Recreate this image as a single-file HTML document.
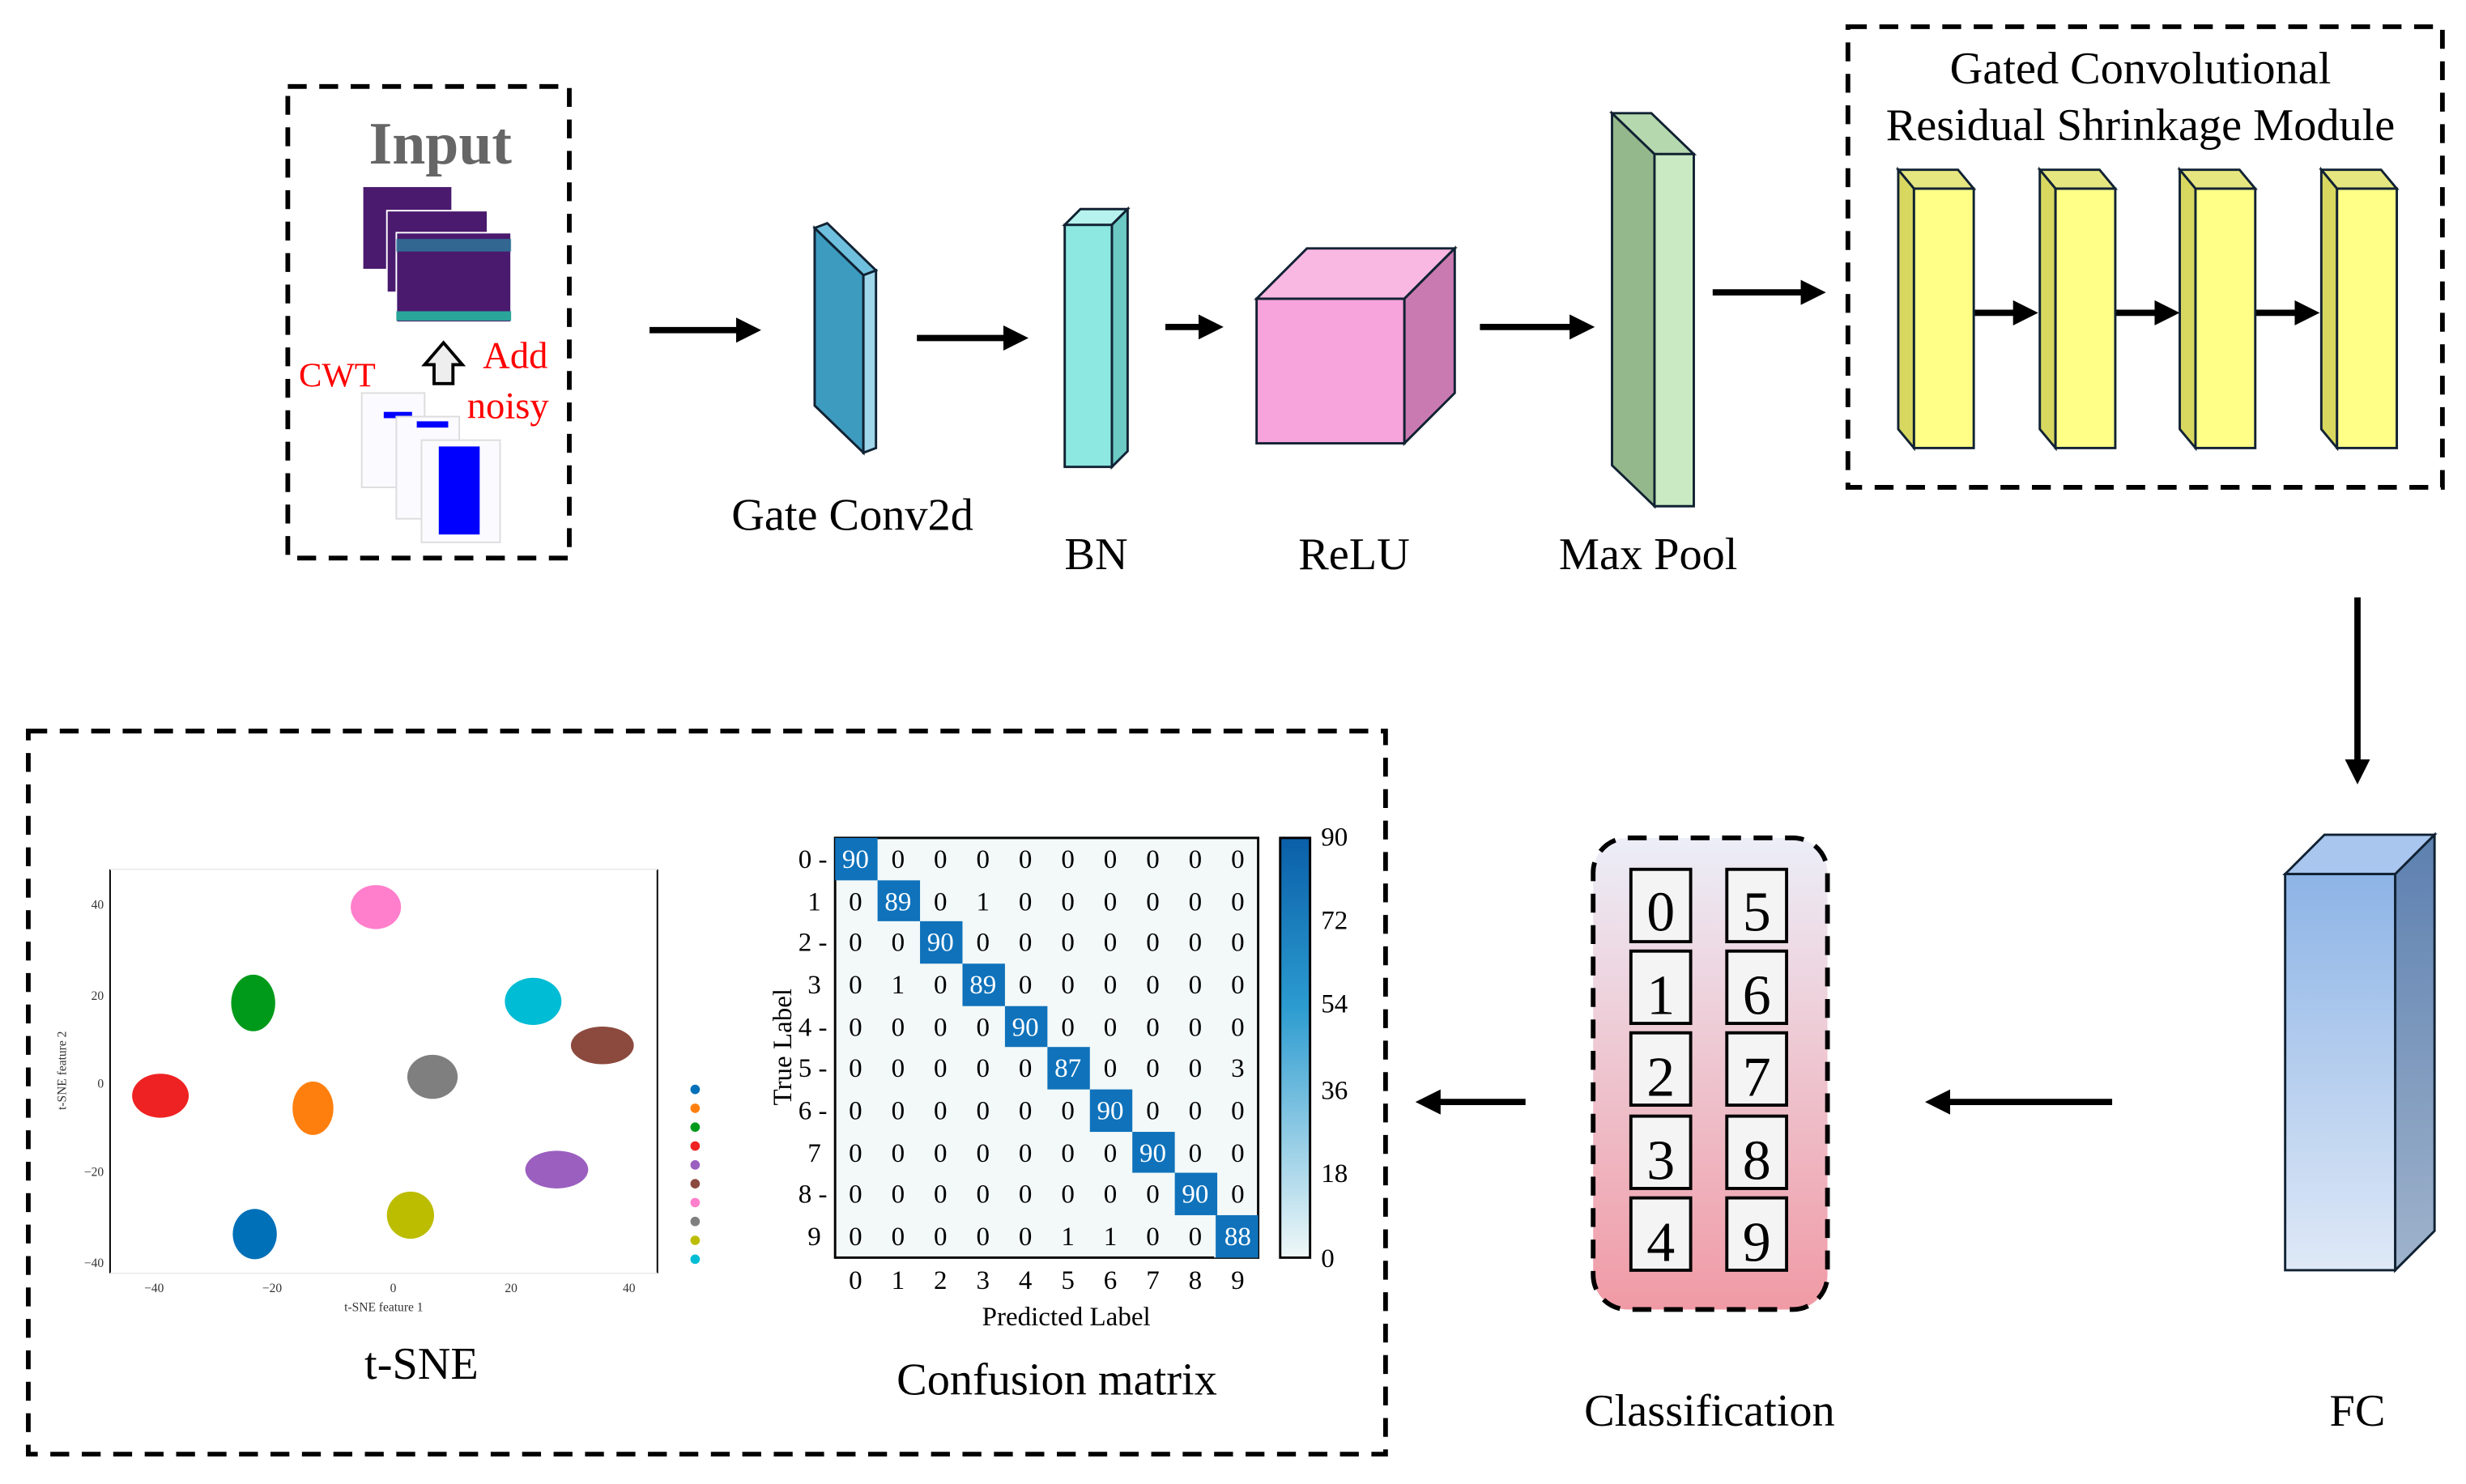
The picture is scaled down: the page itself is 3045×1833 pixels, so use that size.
<!DOCTYPE html>
<html><head><meta charset="utf-8"><style>html,body{margin:0;padding:0;background:#fff}svg{display:block}</style></head><body>
<svg width="3045" height="1833" viewBox="0 0 1568 944" preserveAspectRatio="none" xmlns="http://www.w3.org/2000/svg" font-family="Liberation Serif, serif">
<defs>
<marker id="ah" markerWidth="4" markerHeight="4" refX="2.5" refY="2" orient="auto" markerUnits="strokeWidth"><path d="M0,0 L4,2 L0,4 z" fill="#000"/></marker>
<linearGradient id="fc" x1="0" y1="0" x2="0" y2="1"><stop offset="0" stop-color="#8db4e6"/><stop offset="1" stop-color="#dfe9f7"/></linearGradient>
<linearGradient id="fcs" x1="0" y1="0" x2="0" y2="1"><stop offset="0" stop-color="#5d80b0"/><stop offset="1" stop-color="#9fb3cc"/></linearGradient>
<linearGradient id="cls" x1="0" y1="0" x2="0" y2="1"><stop offset="0" stop-color="#eceef8"/><stop offset="1" stop-color="#f09aa5"/></linearGradient>
<linearGradient id="cb" x1="0" y1="0" x2="0" y2="1"><stop offset="0" stop-color="#0a5fa8"/><stop offset="0.4" stop-color="#2b9bd0"/><stop offset="1" stop-color="#f0f8f8"/></linearGradient>
</defs>
<g fill="none" stroke="#000" stroke-width="3" stroke-dasharray="12,8">
<rect x="183" y="55" width="179" height="300"/>
<rect x="1175" y="17" width="378" height="293"/>
<rect x="18" y="465" width="863" height="460"/>
<rect x="1013" y="533" width="149" height="300" rx="22" fill="url(#cls)"/>
</g>
<!-- Input -->
<text x="280" y="104" font-size="38" font-weight="bold" fill="#666" text-anchor="middle">Input</text>
<rect x="231" y="119" width="56" height="52" fill="#4a1a6e"/>
<rect x="246" y="134" width="64" height="52" fill="#4a1a6e" stroke="#fff" stroke-width="1"/>
<rect x="252" y="148" width="73" height="57" fill="#4a1a6e" stroke="#fff" stroke-width="1"/>
<rect x="252" y="198" width="73" height="6" fill="#2aa59a"/>
<rect x="252" y="152" width="73" height="8" fill="#2b7a9a" opacity="0.8"/>
<path d="M276,244 L276,232 L270,232 L282,218 L294,232 L288,232 L288,244 Z" fill="#eee" stroke="#000" stroke-width="2"/>
<text x="190" y="246" font-size="22" fill="#f00">CWT</text>
<text x="307" y="234" font-size="24" fill="#f00">Add</text>
<text x="297" y="266" font-size="24" fill="#f00">noisy</text>
<rect x="230" y="250" width="40" height="60" fill="#fbfbff" stroke="#ddd"/>
<rect x="244" y="262" width="18" height="4" fill="#00f"/>
<rect x="252" y="265" width="40" height="65" fill="#fbfbff" stroke="#ddd"/>
<rect x="265" y="268" width="20" height="4" fill="#00f"/>
<rect x="268" y="280" width="50" height="65" fill="#fbfbff" stroke="#ddd"/>
<rect x="279" y="284" width="26" height="56" fill="#00f"/>
<!-- arrows -->
<g stroke="#000" stroke-width="4" marker-end="url(#ah)">
<line x1="413" y1="210" x2="478" y2="210"/>
<line x1="583" y1="215" x2="648" y2="215"/>
<line x1="741" y1="208" x2="772" y2="208"/>
<line x1="941" y1="208" x2="1008" y2="208"/>
<line x1="1089" y1="186" x2="1155" y2="186"/>
<line x1="1499" y1="380" x2="1499" y2="493"/>
<line x1="1343" y1="701" x2="1230" y2="701"/>
<line x1="970" y1="701" x2="906" y2="701"/>
<line x1="1255" y1="199" x2="1290" y2="199"/>
<line x1="1345" y1="199" x2="1380" y2="199"/>
<line x1="1434" y1="199" x2="1469" y2="199"/>
</g>
<!-- Gate conv -->
<polygon points="518,145 549,175 549,288 518,258" fill="#3d9bbf" stroke="#123" stroke-width="1.5"/>
<polygon points="549,175 557,172 557,285 549,288" fill="#9fd6ea" stroke="#123" stroke-width="1.5"/>
<polygon points="518,145 526,142 557,172 549,175" fill="#6fc0de" stroke="#123" stroke-width="1.5"/>
<!-- BN -->
<polygon points="677,143 707,143 707,297 677,297" fill="#8de8e2" stroke="#123" stroke-width="1.5"/>
<polygon points="677,143 687,133 717,133 707,143" fill="#b6f3ee" stroke="#123" stroke-width="1.5"/>
<polygon points="707,143 717,133 717,287 707,297" fill="#6cc9c3" stroke="#123" stroke-width="1.5"/>
<!-- ReLU -->
<polygon points="799,190 893,190 893,282 799,282" fill="#f8a4dc" stroke="#123" stroke-width="1.5"/>
<polygon points="799,190 831,158 925,158 893,190" fill="#f9b8e2" stroke="#123" stroke-width="1.5"/>
<polygon points="893,190 925,158 925,250 893,282" fill="#c97ab0" stroke="#123" stroke-width="1.5"/>
<!-- Max pool -->
<polygon points="1025,72 1052,98 1052,322 1025,296" fill="#94b88c" stroke="#123" stroke-width="1.5"/>
<polygon points="1025,72 1050,72 1077,98 1052,98" fill="#b6d8ae" stroke="#123" stroke-width="1.5"/>
<polygon points="1052,98 1077,98 1077,322 1052,322" fill="#c9eac2" stroke="#123" stroke-width="1.5"/>
<!-- GCRS -->
<text x="1361" y="53" font-size="29" text-anchor="middle">Gated Convolutional</text>
<text x="1361" y="89" font-size="29" text-anchor="middle">Residual Shrinkage Module</text>
<g stroke="#123" stroke-width="1.5">
<g id="yb"><polygon points="1207,108 1245,108 1255,120 1217,120" fill="#e6e680"/><polygon points="1207,108 1217,120 1217,285 1207,273" fill="#d8d860"/><rect x="1217" y="120" width="38" height="165" fill="#ffff88"/></g>
<use href="#yb" x="90"/><use href="#yb" x="179"/><use href="#yb" x="269"/>
</g>
<!-- FC -->
<polygon points="1453,556 1478,531 1548,531 1523,556" fill="#a8c6ee" stroke="#123" stroke-width="1.5"/>
<rect x="1453" y="556" width="70" height="252" fill="url(#fc)" stroke="#123" stroke-width="1.5"/>
<polygon points="1523,556 1548,531 1548,783 1523,808" fill="url(#fcs)" stroke="#123" stroke-width="1.5"/>
<!-- classification boxes -->
<g fill="#f4f4f4" stroke="#000" stroke-width="2">
<rect x="1037" y="553" width="38" height="46"/><rect x="1098" y="553" width="38" height="46"/>
<rect x="1037" y="605" width="38" height="46"/><rect x="1098" y="605" width="38" height="46"/>
<rect x="1037" y="657" width="38" height="46"/><rect x="1098" y="657" width="38" height="46"/>
<rect x="1037" y="710" width="38" height="46"/><rect x="1098" y="710" width="38" height="46"/>
<rect x="1037" y="762" width="38" height="46"/><rect x="1098" y="762" width="38" height="46"/>
</g>
<g font-size="36" text-anchor="middle">
<text x="1056" y="592">0</text><text x="1117" y="592">5</text>
<text x="1056" y="645">1</text><text x="1117" y="645">6</text>
<text x="1056" y="697">2</text><text x="1117" y="697">7</text>
<text x="1056" y="750">3</text><text x="1117" y="750">8</text>
<text x="1056" y="802">4</text><text x="1117" y="802">9</text>
</g>
<!-- labels -->
<g font-size="29" text-anchor="middle">
<text x="542" y="337">Gate Conv2d</text><text x="697" y="362">BN</text><text x="861" y="362">ReLU</text><text x="1048" y="362">Max Pool</text>
<text x="1087" y="907">Classification</text><text x="1499" y="907">FC</text><text x="268" y="877">t-SNE</text><text x="672" y="887">Confusion matrix</text>
</g>
<!-- t-SNE -->
<line x1="70" y1="553" x2="70" y2="810" stroke="#000" stroke-width="1"/>
<line x1="418" y1="553" x2="418" y2="810" stroke="#000" stroke-width="1"/>
<line x1="70" y1="810" x2="418" y2="810" stroke="#eee" stroke-width="1"/>
<line x1="70" y1="553" x2="418" y2="553" stroke="#eee" stroke-width="1"/>
<g font-size="8" fill="#333" text-anchor="end"><text x="66" y="578">40</text><text x="66" y="636">20</text><text x="66" y="692">0</text><text x="66" y="748">−20</text><text x="66" y="806">−40</text></g>
<g font-size="8" fill="#333" text-anchor="middle"><text x="98" y="822">−40</text><text x="173" y="822">−20</text><text x="250" y="822">0</text><text x="325" y="822">20</text><text x="400" y="822">40</text><text x="244" y="834">t-SNE feature 1</text></g>
<text x="42" y="681" font-size="8" fill="#333" transform="rotate(-90 42 681)" text-anchor="middle">t-SNE feature 2</text>
<ellipse cx="239" cy="577" rx="16" ry="14" fill="#ff7fcc"/>
<ellipse cx="161" cy="638" rx="14" ry="18" fill="#009a1a"/>
<ellipse cx="102" cy="697" rx="18" ry="14" fill="#ee2222"/>
<ellipse cx="199" cy="705" rx="13" ry="17" fill="#ff7f0e"/>
<ellipse cx="275" cy="685" rx="16" ry="14" fill="#7f7f7f"/>
<ellipse cx="339" cy="637" rx="18" ry="15" fill="#00bcd4"/>
<ellipse cx="383" cy="665" rx="20" ry="12" fill="#8c4a3e"/>
<ellipse cx="354" cy="744" rx="20" ry="12" fill="#9b5fc0"/>
<ellipse cx="261" cy="773" rx="15" ry="15" fill="#bcbd00"/>
<ellipse cx="162" cy="785" rx="14" ry="16" fill="#0070b8"/>
<g><circle cx="442" cy="693" r="3" fill="#0070b8"/><circle cx="442" cy="705" r="3" fill="#ff7f0e"/><circle cx="442" cy="717" r="3" fill="#009a1a"/><circle cx="442" cy="729" r="3" fill="#ee2222"/><circle cx="442" cy="741" r="3" fill="#9b5fc0"/><circle cx="442" cy="753" r="3" fill="#8c4a3e"/><circle cx="442" cy="765" r="3" fill="#ff7fcc"/><circle cx="442" cy="777" r="3" fill="#7f7f7f"/><circle cx="442" cy="789" r="3" fill="#bcbd00"/><circle cx="442" cy="801" r="3" fill="#00bcd4"/></g>
<!-- confusion matrix -->
<rect x="531" y="533" width="269" height="267" fill="#f2f9f8" stroke="#000" stroke-width="1.5"/>
<rect x="772" y="773" width="28" height="27" fill="#ebf5f7"/>
<g fill="#0f72bb">
<rect x="531" y="533" width="27" height="27"/><rect x="558" y="560" width="27" height="26"/><rect x="585" y="586" width="27" height="27"/><rect x="612" y="613" width="27" height="27"/><rect x="639" y="640" width="27" height="26"/><rect x="666" y="666" width="27" height="27"/><rect x="693" y="693" width="27" height="27"/><rect x="720" y="720" width="27" height="26"/><rect x="747" y="746" width="27" height="27"/><rect x="773" y="773" width="27" height="27"/>
</g>
<rect x="814" y="533" width="19" height="267" fill="url(#cb)" stroke="#000" stroke-width="1.5"/>
<g font-size="17" text-anchor="start"><text x="840" y="538">90</text><text x="840" y="591">72</text><text x="840" y="644">54</text><text x="840" y="699">36</text><text x="840" y="752">18</text><text x="840" y="806">0</text></g>
<g font-size="17" text-anchor="middle">
<text x="544" y="552" fill="#fff">90</text><text x="571" y="552">0</text><text x="598" y="552">0</text><text x="625" y="552">0</text><text x="652" y="552">0</text><text x="679" y="552">0</text><text x="706" y="552">0</text><text x="733" y="552">0</text><text x="760" y="552">0</text><text x="787" y="552">0</text>
<text x="544" y="579">0</text><text x="571" y="579" fill="#fff">89</text><text x="598" y="579">0</text><text x="625" y="579">1</text><text x="652" y="579">0</text><text x="679" y="579">0</text><text x="706" y="579">0</text><text x="733" y="579">0</text><text x="760" y="579">0</text><text x="787" y="579">0</text>
<text x="544" y="605">0</text><text x="571" y="605">0</text><text x="598" y="605" fill="#fff">90</text><text x="625" y="605">0</text><text x="652" y="605">0</text><text x="679" y="605">0</text><text x="706" y="605">0</text><text x="733" y="605">0</text><text x="760" y="605">0</text><text x="787" y="605">0</text>
<text x="544" y="632">0</text><text x="571" y="632">1</text><text x="598" y="632">0</text><text x="625" y="632" fill="#fff">89</text><text x="652" y="632">0</text><text x="679" y="632">0</text><text x="706" y="632">0</text><text x="733" y="632">0</text><text x="760" y="632">0</text><text x="787" y="632">0</text>
<text x="544" y="659">0</text><text x="571" y="659">0</text><text x="598" y="659">0</text><text x="625" y="659">0</text><text x="652" y="659" fill="#fff">90</text><text x="679" y="659">0</text><text x="706" y="659">0</text><text x="733" y="659">0</text><text x="760" y="659">0</text><text x="787" y="659">0</text>
<text x="544" y="685">0</text><text x="571" y="685">0</text><text x="598" y="685">0</text><text x="625" y="685">0</text><text x="652" y="685">0</text><text x="679" y="685" fill="#fff">87</text><text x="706" y="685">0</text><text x="733" y="685">0</text><text x="760" y="685">0</text><text x="787" y="685">3</text>
<text x="544" y="712">0</text><text x="571" y="712">0</text><text x="598" y="712">0</text><text x="625" y="712">0</text><text x="652" y="712">0</text><text x="679" y="712">0</text><text x="706" y="712" fill="#fff">90</text><text x="733" y="712">0</text><text x="760" y="712">0</text><text x="787" y="712">0</text>
<text x="544" y="739">0</text><text x="571" y="739">0</text><text x="598" y="739">0</text><text x="625" y="739">0</text><text x="652" y="739">0</text><text x="679" y="739">0</text><text x="706" y="739">0</text><text x="733" y="739" fill="#fff">90</text><text x="760" y="739">0</text><text x="787" y="739">0</text>
<text x="544" y="765">0</text><text x="571" y="765">0</text><text x="598" y="765">0</text><text x="625" y="765">0</text><text x="652" y="765">0</text><text x="679" y="765">0</text><text x="706" y="765">0</text><text x="733" y="765">0</text><text x="760" y="765" fill="#fff">90</text><text x="787" y="765">0</text>
<text x="544" y="792">0</text><text x="571" y="792">0</text><text x="598" y="792">0</text><text x="625" y="792">0</text><text x="652" y="792">0</text><text x="679" y="792">1</text><text x="706" y="792">1</text><text x="733" y="792">0</text><text x="760" y="792">0</text><text x="787" y="792" fill="#fff">88</text>
</g>
<g font-size="17" text-anchor="end">
<text x="526" y="552">0 -</text><text x="522" y="579">1</text><text x="526" y="605">2 -</text><text x="522" y="632">3</text><text x="526" y="659">4 -</text><text x="526" y="685">5 -</text><text x="526" y="712">6 -</text><text x="522" y="739">7</text><text x="526" y="765">8 -</text><text x="522" y="792">9</text>
</g>
<g font-size="17" text-anchor="middle">
<text x="544" y="820">0</text><text x="571" y="820">1</text><text x="598" y="820">2</text><text x="625" y="820">3</text><text x="652" y="820">4</text><text x="679" y="820">5</text><text x="706" y="820">6</text><text x="733" y="820">7</text><text x="760" y="820">8</text><text x="787" y="820">9</text>
<text x="678" y="843">Predicted Label</text>
</g>
<text x="503" y="666" font-size="17" text-anchor="middle" transform="rotate(-90 503 666)">True Label</text>
</svg>
</body></html>
